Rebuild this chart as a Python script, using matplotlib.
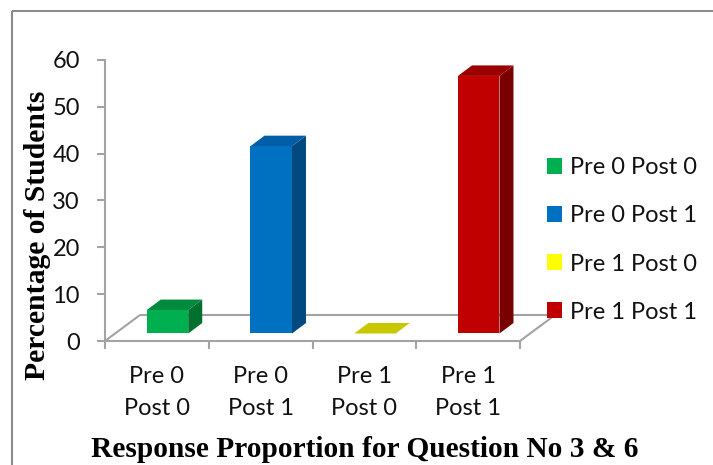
import matplotlib
matplotlib.use("Agg")
import matplotlib.pyplot as plt
from matplotlib.patches import Patch
from matplotlib.lines import Line2D

categories = ["Pre 0\nPost 0", "Pre 0\nPost 1", "Pre 1\nPost 0", "Pre 1\nPost 1"]
series_names = ["Pre 0 Post 0", "Pre 0 Post 1", "Pre 1 Post 0", "Pre 1 Post 1"]
values = [5, 40, 0, 55]
yticks = [0, 10, 20, 30, 40, 50, 60]
front_colors = ["#00b050", "#0070c0", "#c8c800", "#c00000"]
top_colors = ["#008a3e", "#005ea6", "#c8c800", "#9c0000"]
side_colors = ["#00702f", "#004a80", "#c8c800", "#780000"]
legend_colors = ["#00b050", "#0070c0", "#ffff00", "#c00000"]

W, H = 713, 465
GRAY = "#a3a3a3"
TXT = "#111111"
SANS = "Lato"
SERIF = "Liberation Serif"
FS = 17

fig = plt.figure(figsize=(W / 100, H / 100), dpi=100, facecolor="white")
ax = fig.add_axes([105 / W, 1 - 341 / H, (520 - 105) / W, (341 - 60) / H])
ax.set_xlim(0, 4)
ax.set_ylim(0, 60)
ax.patch.set_visible(False)

# pixel to data scale
sx = 4 / (520 - 105)
sy = 60 / (341 - 60)
floor_dx, floor_dy = 35 * sx, 26 * sy
bar_w = 41.5 * sx
base_dx, base_dy = 10.6 * sx, 7.5 * sy
depth_dx, depth_dy = 14 * sx, 10.5 * sy

# floor
line_kw = dict(color=GRAY, lw=1.5, clip_on=False, solid_capstyle="butt", zorder=1)
ax.plot([0, floor_dx], [0, floor_dy], **line_kw)
ax.plot([floor_dx, 4 + floor_dx], [floor_dy, floor_dy], **line_kw)
ax.plot([4, 4 + floor_dx], [0, floor_dy], **line_kw)

# bars
for i, v in enumerate(values):
    x0 = i + 0.5 + base_dx - bar_w / 2
    x1 = x0 + bar_w
    y0 = base_dy
    y1 = base_dy + v
    ax.fill([x1, x1 + depth_dx, x1 + depth_dx, x1],
            [y0, y0 + depth_dy, y1 + depth_dy, y1],
            color=side_colors[i], lw=0, zorder=3, clip_on=False)
    ax.fill([x0, x1, x1 + depth_dx, x0 + depth_dx],
            [y1, y1, y1 + depth_dy, y1 + depth_dy],
            color=top_colors[i], lw=0, zorder=3, clip_on=False)
    if v > 0:
        ax.bar(i + 0.5 + base_dx, v, width=bar_w, bottom=base_dy,
               color=front_colors[i], lw=0, zorder=4)

# axes
for s in ["top", "right"]:
    ax.spines[s].set_visible(False)
for s in ["left", "bottom"]:
    ax.spines[s].set_color(GRAY)
    ax.spines[s].set_linewidth(1.5)
ax.set_yticks(yticks)
ax.tick_params(axis="y", length=6, width=1.5, color=GRAY, labelsize=FS,
               labelcolor=TXT, pad=12)
ax.set_xticks([0, 1, 2, 3, 4])
ax.set_xticklabels([])
ax.tick_params(axis="x", length=6, width=1.5, color=GRAY)
for t in ax.get_yticklabels():
    t.set_fontfamily(SANS)
for i, c in enumerate(categories):
    ax.text(i + 0.5, -(366 - 341) / (341 - 60), c, transform=ax.get_xaxis_transform(),
            ha="center", va="top", fontsize=FS, family=SANS, color=TXT, linespacing=1.64)

fig.text(38 / W, 1 - 235 / H, "Percentage of Students", rotation=90, ha="center", va="center",
         family=SERIF, weight="bold", fontsize=21.3, color="black")
fig.text(365 / W, 1 - 449 / H, "Response Proportion for Question No 3 & 6", ha="center",
         va="center", family=SERIF, weight="bold", fontsize=21.2, color="black")

# legend
handles = [Patch(facecolor=c, edgecolor="none") for c in legend_colors]
leg = fig.legend(handles, series_names, loc="center left", bbox_to_anchor=(547 / W, 1 - 240 / H),
                 frameon=False, handlelength=0.635, handleheight=0.635,
                 handletextpad=0.34, labelspacing=1.145, borderpad=0, borderaxespad=0,
                 prop={"family": SANS, "size": FS})
for t in leg.get_texts():
    t.set_color(TXT)

# chart frame
frame_kw = dict(color="#8c8c8c", lw=1.5, transform=fig.transFigure, solid_capstyle="butt")
fig.add_artist(Line2D([12 / W, 12 / W], [0, 1 - 11 / H], **frame_kw))
fig.add_artist(Line2D([12 / W, 1], [1 - 11 / H, 1 - 11 / H], **frame_kw))

fig.savefig("out.png", dpi=100)
